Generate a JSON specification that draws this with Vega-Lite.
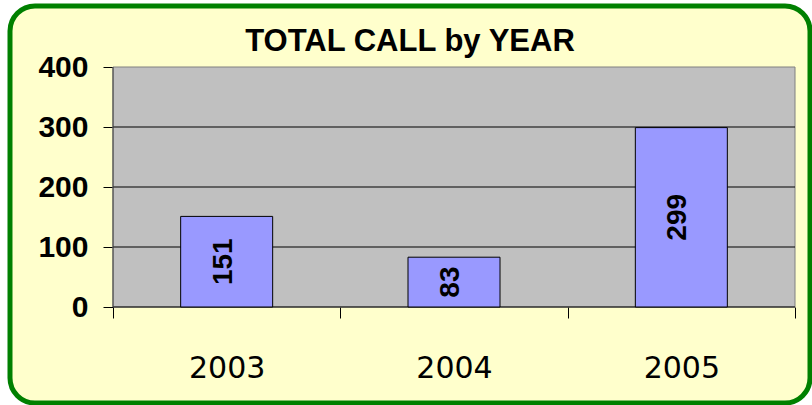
{
  "$schema": "https://vega.github.io/schema/vega-lite/v6.json",
  "width": 800,
  "height": 397,
  "autosize": {"type": "none"},
  "padding": {"left": 10, "top": 6, "right": 2, "bottom": 2},
  "background": "#FFFFFF",
  "config": {
    "view": {"fill": "#FFFFCC", "stroke": "#008000", "strokeWidth": 5, "cornerRadius": 25}
  },
  "title": {
    "text": "TOTAL CALL by YEAR",
    "font": "Liberation Sans",
    "fontSize": 31,
    "fontWeight": "bold",
    "color": "#000000",
    "anchor": "middle",
    "frame": "group",
    "baseline": "bottom",
    "offset": -83
  },
  "data": {
    "values": [
      {"year": 2003, "calls": 151},
      {"year": 2004, "calls": 83},
      {"year": 2005, "calls": 299}
    ]
  },
  "resolve": {"scale": {"y": "independent"}, "axis": {"x": "independent", "y": "independent"}},
  "layer": [
    {
      "layer": [
        {
          "data": {"values": [{"plot": "area"}]},
          "mark": {"type": "rect", "fill": "#C0C0C0", "stroke": "#808080", "strokeWidth": 1},
          "encoding": {
            "x": {"datum": 2002.5, "type": "quantitative"},
            "x2": {"datum": 2005.5},
            "y": {"datum": 0, "type": "quantitative"},
            "y2": {"datum": 400}
          }
        },
        {
          "data": {"values": [{"tick": 0}, {"tick": 100}, {"tick": 200}, {"tick": 300}]},
          "mark": {"type": "rule", "color": "#000000", "strokeWidth": 1},
          "encoding": {
            "x": {"datum": 2002.5, "type": "quantitative"},
            "x2": {"datum": 2005.5},
            "y": {"field": "tick", "type": "quantitative"}
          }
        },
        {
          "data": {"values": [{"plot": "area"}]},
          "mark": {"type": "rule", "color": "#404040", "strokeWidth": 1},
          "encoding": {
            "x": {"datum": 2002.5, "type": "quantitative"},
            "y": {"datum": 0, "type": "quantitative"},
            "y2": {"datum": 400}
          }
        },
        {
          "mark": {"type": "bar", "width": 92, "fill": "#9999FF", "stroke": "#000000", "strokeWidth": 1},
          "encoding": {
            "x": {
              "field": "year",
              "type": "quantitative",
              "scale": {"domain": [2002.04692, 2005.56598], "nice": false, "zero": false, "padding": 0},
              "axis": {
                "orient": "bottom",
                "offset": -96,
                "values": [2002.5, 2003.5, 2004.5, 2005.5],
                "title": null,
                "domain": false,
                "grid": false,
                "ticks": true,
                "tickSize": 11,
                "tickColor": "#000000",
                "labelExpr": "datum.value > 2005 ? '' : format(datum.value + 0.5, 'd')",
                "labelOffset": 113.67,
                "labelFont": "DejaVu Sans",
                "labelFontSize": 30,
                "labelColor": "#000000",
                "labelPadding": 35,
                "labelFlush": false,
                "labelOverlap": false,
                "labelBound": false
              }
            },
            "y": {
              "field": "calls",
              "type": "quantitative",
              "scale": {"domain": [-160, 501.667], "nice": false, "zero": false, "padding": 0},
              "axis": {
                "orient": "left",
                "offset": -103,
                "values": [0, 100, 200, 300, 400],
                "title": null,
                "domain": false,
                "grid": false,
                "tickSize": 10,
                "tickColor": "#000000",
                "labelFont": "Liberation Sans",
                "labelFontSize": 30,
                "labelFontWeight": "bold",
                "labelColor": "#000000",
                "labelPadding": 15,
                "labelFlush": false,
                "labelOverlap": false,
                "labelBound": false
              }
            }
          }
        }
      ]
    },
    {
      "mark": {
        "type": "text",
        "angle": 270,
        "align": "center",
        "baseline": "middle",
        "dy": -3,
        "font": "Liberation Sans",
        "fontSize": 28,
        "fontWeight": "bold",
        "color": "#000000"
      },
      "encoding": {
        "x": {"field": "year", "type": "quantitative", "axis": null},
        "y": {
          "field": "calls",
          "type": "quantitative",
          "scale": {"domain": [-320, 1003.334], "nice": false, "zero": false, "padding": 0},
          "axis": null
        },
        "text": {"field": "calls", "type": "quantitative"}
      }
    }
  ]
}
